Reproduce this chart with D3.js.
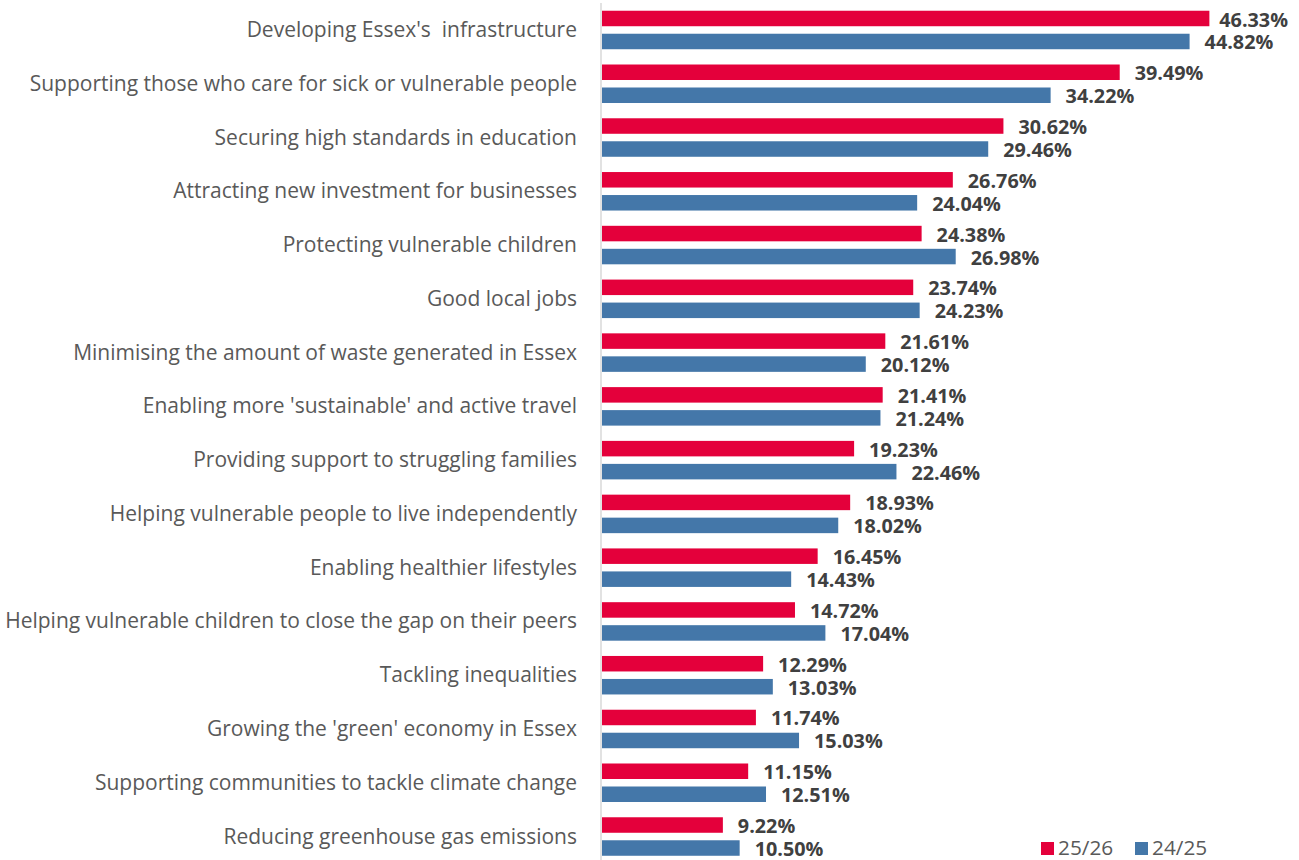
<!DOCTYPE html>
<html><head><meta charset="utf-8">
<script src="https://cdn.jsdelivr.net/npm/d3@7"></script>
<style>
html,body{margin:0;padding:0;background:#fff;}
svg text{white-space:pre;}
</style></head>
<body>
<svg id="chart" width="1299" height="860"></svg>
<script>
const categories = [
  "Developing Essex's  infrastructure",
  "Supporting those who care for sick or vulnerable people",
  "Securing high standards in education",
  "Attracting new investment for businesses",
  "Protecting vulnerable children",
  "Good local jobs",
  "Minimising the amount of waste generated in Essex",
  "Enabling more 'sustainable' and active travel",
  "Providing support to struggling families",
  "Helping vulnerable people to live independently",
  "Enabling healthier lifestyles",
  "Helping vulnerable children to close the gap on their peers",
  "Tackling inequalities",
  "Growing the 'green' economy in Essex",
  "Supporting communities to tackle climate change",
  "Reducing greenhouse gas emissions"
];
const seriesNames = ["25/26", "24/25"];
const values2526 = [46.33, 39.49, 30.62, 26.76, 24.38, 23.74, 21.61, 21.41, 19.23, 18.93, 16.45, 14.72, 12.29, 11.74, 11.15, 9.22];
const values2425 = [44.82, 34.22, 29.46, 24.04, 26.98, 24.23, 20.12, 21.24, 22.46, 18.02, 14.43, 17.04, 13.03, 15.03, 12.51, 10.50];
const colors = ["#e4003b", "#4477a9"];

const svg = d3.select("#chart");
const FONT = "'Open Sans', Lato, sans-serif";

const x = d3.scaleLinear().domain([0, 50]).range([602, 602 + 50 * 13.11]);
const y0 = d3.scaleBand().domain(categories).range([3.1, 863.4]).paddingInner(0.284).paddingOuter(0.142);
const y1 = d3.scaleBand().domain(seriesNames).range([0, y0.bandwidth()]).paddingInner(0.326);

const data = categories.map((c, i) => ({cat: c, vals: [values2526[i], values2425[i]]}));

// axis line
svg.append("line").attr("x1", 601).attr("x2", 601).attr("y1", 3).attr("y2", 860)
  .attr("stroke", "#d9d9d9").attr("stroke-width", 1.5);

// category labels
svg.append("g").selectAll("text").data(categories).join("text")
  .attr("x", 577).attr("y", d => y0(d) + y0.bandwidth() / 2 + 7)
  .attr("text-anchor", "end")
  .attr("font-family", FONT).attr("font-size", 21).attr("fill", "#595959")
  .text(d => d);

const groups = svg.append("g").selectAll("g").data(data).join("g")
  .attr("transform", d => `translate(0,${y0(d.cat)})`);

groups.selectAll("rect").data(d => d.vals.map((v, j) => ({v, s: seriesNames[j], j}))).join("rect")
  .attr("x", x(0)).attr("y", d => y1(d.s))
  .attr("width", d => x(d.v) - x(0)).attr("height", y1.bandwidth())
  .attr("fill", d => colors[d.j]);

groups.selectAll("text").data(d => d.vals.map((v, j) => ({v, s: seriesNames[j], j}))).join("text")
  .attr("x", d => x(d.v) + 15).attr("y", d => y1(d.s) + y1.bandwidth() / 2 + 8)
  .attr("font-family", FONT).attr("font-size", 19.8).attr("font-weight", "bold").attr("fill", "#404040")
  .text(d => d.v.toFixed(2) + "%")
  .each(function() {
    const w = this.getComputedTextLength();
    const xx = +this.getAttribute("x");
    if (xx + w > 1288) this.setAttribute("x", 1288 - w);
  });

// legend
const legendX = [1041, 1135];
const lg = svg.append("g").selectAll("g").data(seriesNames).join("g")
  .attr("transform", (d, i) => `translate(${legendX[i]},842)`);
lg.append("rect").attr("width", 13).attr("height", 13).attr("fill", (d, i) => colors[i]);
lg.append("text").attr("x", 17).attr("y", 13)
  .attr("font-family", FONT).attr("font-size", 20.8).attr("fill", "#595959").text(d => d);
</script>
</body></html>
